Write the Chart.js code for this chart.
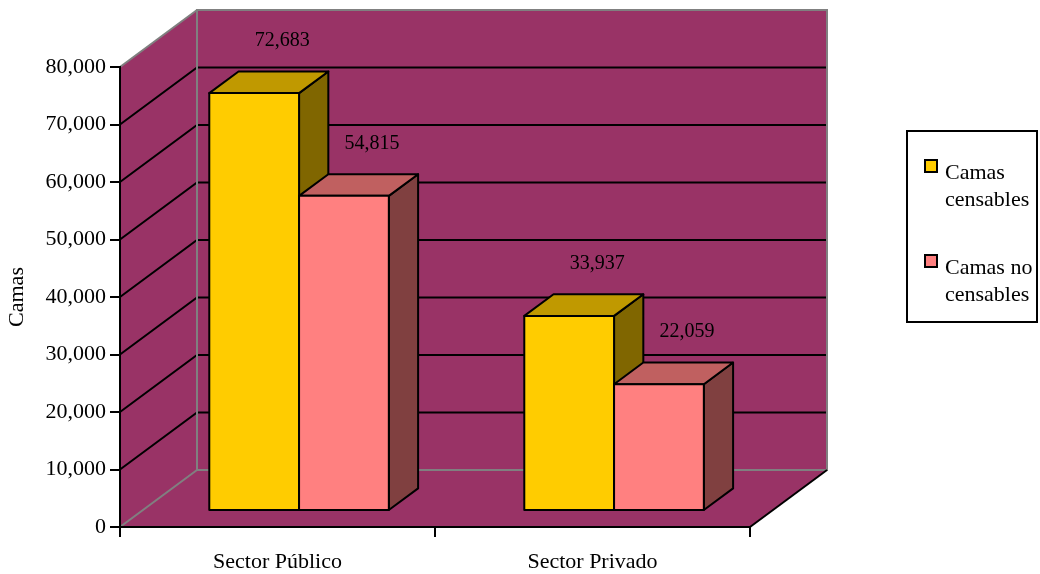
<!DOCTYPE html>
<html>
<head>
<meta charset="utf-8">
<script src="https://cdn.jsdelivr.net/npm/chart.js"></script>
<style>
  body { margin: 0; background: #fff; }
  #wrap { width: 1040px; height: 574px; }
</style>
</head>
<body>
<div id="wrap"><canvas id="myChart"></canvas></div>
<script>
var sectores = ["Sector Público", "Sector Privado"];
var censables = [72683, 33937];
var noCensables = [54815, 22059];
var serieNames = ["Camas censables", "Camas no censables"];
var yMin = 0, yMax = 80000, yStep = 10000;

var frontColors = ["#FFCC00", "#FF8080"];
var topColors = ["#C09900", "#C06060"];
var sideColors = ["#806600", "#804040"];

// depth of the 3d box and where the bars sit inside it
var DX = 77, DY = 57;
var barFront = 0.28, barBack = 0.66;
var FONT = "'Liberation Serif', 'Times New Roman', serif";

Chart.defaults.font.family = FONT;
Chart.defaults.font.size = 22;
Chart.defaults.color = "#000";

function poly(ctx, pts) {
  ctx.beginPath();
  ctx.moveTo(pts[0][0], pts[0][1]);
  for (var i = 1; i < pts.length; i++) ctx.lineTo(pts[i][0], pts[i][1]);
  ctx.closePath();
}
function seg(ctx, x0, y0, x1, y1) {
  ctx.beginPath(); ctx.moveTo(x0, y0); ctx.lineTo(x1, y1); ctx.stroke();
}

var box3d = {
  id: "box3d",
  beforeDraw: function(chart) {
    var ctx = chart.ctx, a = chart.chartArea, y = chart.scales.y;
    var L = a.left, R = a.right, T = a.top, B = a.bottom;
    ctx.save();
    ctx.fillStyle = "#993366";
    poly(ctx, [[L, B], [L, T], [L + DX, T - DY], [L + DX, B - DY]]);
    ctx.fill();
    ctx.fillRect(L + DX, T - DY, R - L, B - T);
    poly(ctx, [[L, B], [R, B], [R + DX, B - DY], [L + DX, B - DY]]);
    ctx.fill();

    ctx.lineWidth = 2;
    ctx.strokeStyle = "#000";
    y.ticks.forEach(function(t) {
      if (t.value <= y.min || t.value >= y.max) return;
      var p = y.getPixelForValue(t.value);
      ctx.beginPath();
      ctx.moveTo(L, p);
      ctx.lineTo(L + DX, p - DY);
      ctx.lineTo(R + DX, p - DY);
      ctx.stroke();
    });
    ctx.strokeStyle = "#808080";
    ctx.strokeRect(L + DX, T - DY, R - L, B - T);
    seg(ctx, L, T, L + DX, T - DY);
    seg(ctx, L, B, L + DX, B - DY);
    ctx.strokeStyle = "#000";
    seg(ctx, R, B, R + DX, B - DY);
    ctx.restore();
  },
  beforeDatasetsDraw: function(chart) {
    var ctx = chart.ctx;
    var fx = DX * barFront, fy = DY * barFront;
    var dx = DX * (barBack - barFront), dy = DY * (barBack - barFront);
    ctx.save();
    ctx.lineWidth = 2;
    ctx.strokeStyle = "#000";
    ctx.lineJoin = "round";
    chart.data.datasets.forEach(function(ds, di) {
      var meta = chart.getDatasetMeta(di);
      meta.data.forEach(function(el, i) {
        var x0 = el.x - el.width / 2 + fx, x1 = x0 + el.width;
        var yT = el.y - fy, yB = el.base - fy;
        poly(ctx, [[x1, yT], [x1 + dx, yT - dy], [x1 + dx, yB - dy], [x1, yB]]);
        ctx.fillStyle = sideColors[di]; ctx.fill(); ctx.stroke();
        poly(ctx, [[x0, yT], [x1, yT], [x1 + dx, yT - dy], [x0 + dx, yT - dy]]);
        ctx.fillStyle = topColors[di]; ctx.fill(); ctx.stroke();
        poly(ctx, [[x0, yT], [x1, yT], [x1, yB], [x0, yB]]);
        ctx.fillStyle = frontColors[di]; ctx.fill(); ctx.stroke();
      });
    });
    // value labels
    ctx.fillStyle = "#000";
    ctx.font = "20px " + FONT;
    ctx.textAlign = "center";
    ctx.textBaseline = "middle";
    chart.data.datasets.forEach(function(ds, di) {
      chart.getDatasetMeta(di).data.forEach(function(el, i) {
        ctx.fillText(ds.data[i].toLocaleString("en-US"), el.x + fx + 28, el.y - fy - 52);
      });
    });
    ctx.restore();
    return false;
  },
  afterDraw: function(chart) {
    var ctx = chart.ctx;
    var bx = 907, by = 131, bw = 130, bh = 191;
    ctx.save();
    ctx.lineWidth = 2;
    ctx.strokeStyle = "#000";
    ctx.strokeRect(bx, by, bw, bh);
    ctx.font = "22px " + FONT;
    ctx.fillStyle = "#000";
    ctx.textBaseline = "alphabetic";
    chart.data.datasets.forEach(function(ds, di) {
      var top = by + 29 + di * 95;
      ctx.fillStyle = ds.backgroundColor;
      ctx.fillRect(bx + 18, top, 12, 12);
      ctx.strokeRect(bx + 18, top, 12, 12);
      // wrap label into lines
      var words = ds.label.split(" "), lines = [], cur = "";
      words.forEach(function(w) {
        var test = cur ? cur + " " + w : w;
        if (cur && ctx.measureText(test).width > 90) { lines.push(cur); cur = w; }
        else cur = test;
      });
      lines.push(cur);
      ctx.fillStyle = "#000";
      lines.forEach(function(l, k) {
        ctx.fillText(l, bx + 38, top + 19 + k * 27);
      });
    });
    ctx.restore();
  }
};

new Chart("myChart", {
  type: "bar",
  data: {
    labels: sectores,
    datasets: [{
      label: serieNames[0],
      data: censables,
      backgroundColor: frontColors[0]
    }, {
      label: serieNames[1],
      data: noCensables,
      backgroundColor: frontColors[1]
    }]
  },
  options: {
    responsive: true,
    maintainAspectRatio: false,
    animation: false,
    events: [],
    datasets: { bar: { categoryPercentage: 0.57, barPercentage: 1.0 } },
    layout: { padding: { top: 67, right: 290, left: 0, bottom: 0 } },
    plugins: { legend: { display: false }, tooltip: { enabled: false } },
    scales: {
      x: {
        grid: { drawOnChartArea: false, offset: true, tickLength: 10, color: "#000", lineWidth: 2 },
        border: { color: "#000", width: 2 },
        ticks: { padding: 12, maxRotation: 0 },
        afterFit: function(s) { s.height = 47; }
      },
      y: {
        min: yMin,
        max: yMax,
        ticks: { stepSize: yStep, padding: 4, format: { locale: "en-US" } },
        grid: { drawOnChartArea: false, tickLength: 10, color: "#000", lineWidth: 2 },
        border: { color: "#000", width: 2 },
        title: { display: true, text: "Camas", font: { size: 22 }, padding: { top: 4, bottom: 0 } },
        afterFit: function(s) { s.width = 120; }
      }
    }
  },
  plugins: [box3d]
});
</script>
</body>
</html>
